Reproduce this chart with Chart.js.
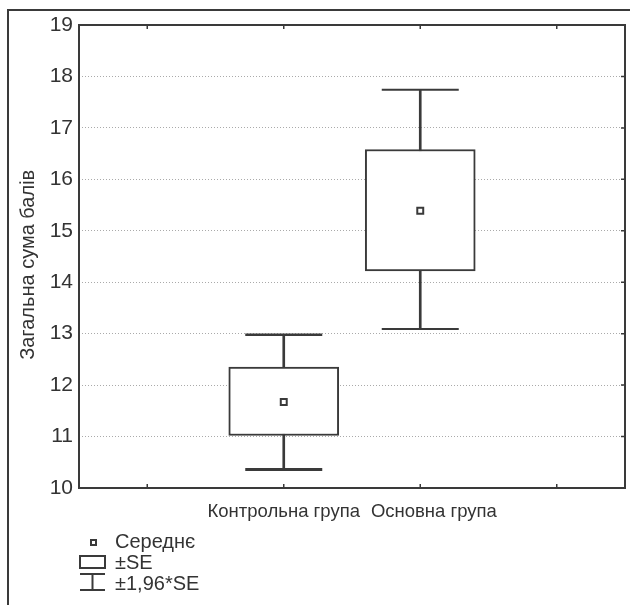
<!DOCTYPE html>
<html>
<head>
    <title>Загальна сума балів</title>
    <script src="https://cdn.jsdelivr.net/npm/chart.js"></script>
    <style>
        body { margin: 0; background: #fff; }
        canvas { display: block; }
    </style>
</head>
<body>
    <canvas id="boxChart" width="630" height="605"></canvas>
    <script type="text/javascript">
        // values
        var groups = ['Контрольна група', 'Основна група'];
        var groupPos = [1.5, 2.5];
        var labelPos = [1.5, 2.6];
        var means = [11.67, 15.39];
        var seLow = [11.02, 14.22];
        var seHigh = [12.35, 16.58];
        var ciLow = [10.36, 13.09];
        var ciHigh = [12.98, 17.74];
        var xTickVals = [0.5, 1.5, 2.5, 3.5];
        var yMin = 10, yMax = 19;

        var FONT = "'Liberation Sans', Arial, sans-serif";
        var INK = '#3a3a3a';

        function pts(vals) {
            return groupPos.map(function (x, i) { return { x: x, y: vals[i] }; });
        }
        function ranges(lo, hi) {
            return groupPos.map(function (x, i) { return { x: x, y: [lo[i], hi[i]] }; });
        }

        var framePlugin = {
            id: 'frame',
            afterDraw: function (chart) {
                var c = chart.ctx, a = chart.chartArea;
                var xs = chart.scales.x, ys = chart.scales.y;
                c.save();
                c.strokeStyle = INK;
                // outer frame (top and left only)
                c.lineWidth = 2;
                c.beginPath();
                c.moveTo(630, 10); c.lineTo(8, 10); c.lineTo(8, 605);
                c.stroke();
                // plot frame
                c.strokeRect(a.left, a.top, a.right - a.left, a.bottom - a.top);
                // small inward ticks
                c.lineWidth = 1.5;
                c.beginPath();
                xTickVals.forEach(function (v) {
                    var px = xs.getPixelForValue(v);
                    c.moveTo(px, a.top); c.lineTo(px, a.top + 4);
                    c.moveTo(px, a.bottom); c.lineTo(px, a.bottom - 4);
                });
                for (var v = yMin + 1; v < yMax; v++) {
                    var py = ys.getPixelForValue(v);
                    c.moveTo(a.right, py); c.lineTo(a.right - 4, py);
                }
                c.stroke();

                // legend
                c.lineWidth = 2;
                c.strokeRect(91, 540, 5, 5);
                c.strokeRect(80, 556, 25, 12);
                c.beginPath();
                c.moveTo(80, 574); c.lineTo(105, 574);
                c.moveTo(92.5, 574); c.lineTo(92.5, 590);
                c.moveTo(80, 590); c.lineTo(105, 590);
                c.stroke();
                c.fillStyle = '#333';
                c.font = '20px ' + FONT;
                c.textBaseline = 'alphabetic';
                c.fillText('Середнє', 115, 548);
                c.fillText('±SE', 115, 569);
                c.fillText('±1,96*SE', 115, 590);
                c.restore();
            }
        };

        var ctx = document.getElementById('boxChart').getContext('2d');
        var chart = new Chart(ctx, {
            type: 'bar',
            data: {
                datasets: [{
                    // whisker stems, drawn behind the boxes
                    label: '±1,96*SE',
                    data: ranges(ciLow, ciHigh),
                    backgroundColor: INK,
                    borderWidth: 0,
                    barThickness: 2,
                    grouped: false,
                    order: 4
                }, {
                    label: '±SE',
                    data: ranges(seLow, seHigh),
                    backgroundColor: '#fff',
                    borderColor: INK,
                    borderWidth: 2,
                    borderSkipped: false,
                    barThickness: 110,
                    grouped: false,
                    order: 3
                }, {
                    type: 'line',
                    label: 'caps low',
                    data: pts(ciLow),
                    showLine: false,
                    pointStyle: 'line',
                    pointRadius: 38.5,
                    borderColor: INK,
                    pointBorderWidth: [3, 2],
                    order: 2
                }, {
                    type: 'line',
                    label: 'caps high',
                    data: pts(ciHigh),
                    showLine: false,
                    pointStyle: 'line',
                    pointRadius: 38.5,
                    borderColor: INK,
                    pointBorderWidth: [2.5, 2],
                    order: 2
                }, {
                    type: 'line',
                    label: 'Середнє',
                    data: pts(means),
                    showLine: false,
                    pointStyle: 'rect',
                    pointRadius: 4.2,
                    pointBackgroundColor: '#fff',
                    pointBorderColor: INK,
                    pointBorderWidth: 2,
                    order: 1
                }]
            },
            options: {
                responsive: false,
                animation: false,
                layout: { autoPadding: false, padding: { left: 0, top: 25, right: 5, bottom: 83 } },
                plugins: {
                    legend: { display: false },
                    tooltip: { enabled: false }
                },
                scales: {
                    x: {
                        type: 'linear',
                        min: 0,
                        max: 4,
                        offset: false,
                        grid: { display: false },
                        border: { display: false },
                        afterBuildTicks: function (scale) {
                            scale.ticks = labelPos.map(function (v) { return { value: v }; });
                        },
                        afterFit: function (scale) { scale.height = 34; },
                        ticks: {
                            autoSkip: false,
                            maxRotation: 0,
                            minRotation: 0,
                            padding: 5,
                            color: '#333',
                            font: { family: FONT, size: 18.5 },
                            callback: function (v) {
                                var i = labelPos.indexOf(v);
                                return i < 0 ? '' : groups[i];
                            }
                        }
                    },
                    y: {
                        min: yMin,
                        max: yMax,
                        afterFit: function (scale) { scale.width = 79; },
                        grid: { color: '#aaa', lineWidth: 1, drawTicks: false },
                        border: { display: false, dash: [1, 2] },
                        ticks: {
                            stepSize: 1,
                            padding: 6,
                            color: '#333',
                            font: { family: FONT, size: 21 }
                        },
                        title: {
                            display: true,
                            text: 'Загальна сума балів   ',
                            color: '#333',
                            padding: { top: 16, bottom: 0 },
                            font: { family: FONT, size: 20 }
                        }
                    }
                }
            },
            plugins: [framePlugin]
        });
    </script>
</body>
</html>
